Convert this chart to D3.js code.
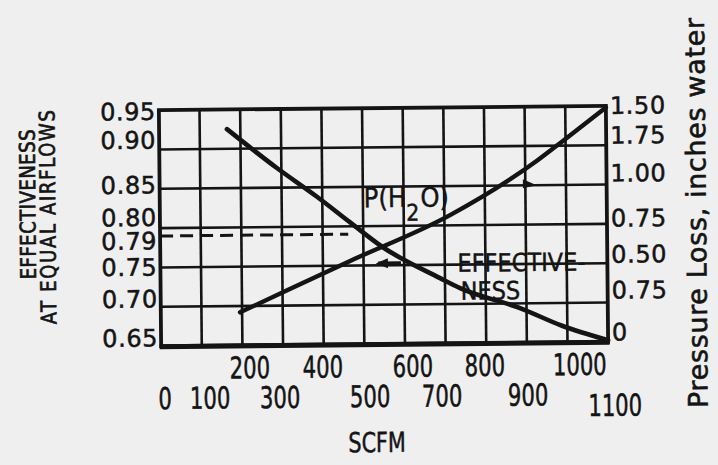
<!DOCTYPE html>
<html><head><meta charset="utf-8">
<script src="https://cdn.jsdelivr.net/npm/d3@7/dist/d3.min.js"></script>
<style>
html,body{margin:0;padding:0;background:#efefef;}
svg{display:block;}
</style></head>
<body><svg id="chart" width="718" height="465"></svg>
<script>
// ---- data ----
const effScfm   = [167, 289, 387, 468, 548, 688, 737, 884, 987, 1100];
const effValues = [0.925, 0.875, 0.838, 0.805, 0.773, 0.733, 0.720, 0.694, 0.671, 0.652];
const presScfm   = [195, 318, 467, 714, 929, 991, 1100];
const presValues = [0.21, 0.355, 0.53, 0.815, 1.155, 1.275, 1.49];
const refEffValue = 0.79;
const refScfmEnd = 463;
const xGridValues = [0, 100, 200, 300, 400, 500, 600, 700, 800, 900, 1000, 1100];
const yGridValues = [0.65, 0.70, 0.75, 0.80, 0.85, 0.90, 0.95];
const xTickTop = [200, 400, 600, 800, 1000];
const xTickBottom = [0, 100, 300, 500, 700, 900, 1100];
const leftTickValues = [0.95, 0.90, 0.85, 0.80, 0.79, 0.75, 0.70, 0.65];
const leftTickLabels = ["0.95", "0.90", "0.85", "0.80", "0.79", "0.75", "0.70", "0.65"];
const rightTickValues = [1.5, 1.25, 1.0, 0.75, 0.5, 0.25, 0];
const rightTickLabels = ["1.50", "1.75", "1.00", "0.75", "0.50", "0.75", "0"];

// ---- layout ----
const svg = d3.select('#chart');
svg.append('rect').attr('width', 718).attr('height', 465).attr('fill', '#efefef');
const x = d3.scaleLinear([0, 1100], [160, 607]);
const yL = d3.scaleLinear([0.65, 0.95], [344, 108]);
const yR = d3.scaleLinear([0, 1.5], [344, 108]);
const ink = '#141414';
const g = svg.append('g').attr('transform', 'rotate(-0.55,383,226)');

// grid
g.append('g').selectAll('line').data(xGridValues.slice(1, -1)).join('line')
  .attr('x1', d => x(d)).attr('x2', d => x(d))
  .attr('y1', yL(0.95)).attr('y2', yL(0.65))
  .attr('stroke', ink).attr('stroke-width', 2.6);
g.append('g').selectAll('line').data(yGridValues.slice(1, -1)).join('line')
  .attr('x1', x(0)).attr('x2', x(1100))
  .attr('y1', d => yL(d)).attr('y2', d => yL(d))
  .attr('stroke', ink).attr('stroke-width', 2.6);
// frame
g.append('rect').attr('x', x(0)).attr('y', yL(0.95))
  .attr('width', x(1100) - x(0)).attr('height', yL(0.65) - yL(0.95))
  .attr('fill', 'none').attr('stroke', ink).attr('stroke-width', 3.8);
g.append('line').attr('x1', x(0) - 1.5).attr('x2', x(1100) + 1.5)
  .attr('y1', yL(0.65) + 0.5).attr('y2', yL(0.65) + 0.5)
  .attr('stroke', ink).attr('stroke-width', 5);

// reference dashed line
g.append('line').attr('x1', x(0)).attr('x2', x(refScfmEnd))
  .attr('y1', yL(refEffValue)).attr('y2', yL(refEffValue))
  .attr('stroke', ink).attr('stroke-width', 3).attr('stroke-dasharray', '13 7');

// curves
const effLine = d3.line().x((d, i) => x(effScfm[i])).y(d => yL(d)).curve(d3.curveMonotoneX);
const presLine = d3.line().x((d, i) => x(presScfm[i])).y(d => yR(d)).curve(d3.curveMonotoneX);
g.append('path').attr('d', effLine(effValues)).attr('fill', 'none')
  .attr('stroke', ink).attr('stroke-width', 4.6).attr('stroke-linecap', 'round');
g.append('path').attr('d', presLine(presValues)).attr('fill', 'none')
  .attr('stroke', ink).attr('stroke-width', 4.4).attr('stroke-linecap', 'round');

// arrows
const ya = yL(0.85);
g.append('path').attr('d', `M${x(928)},${ya} L${x(894)},${ya - 6} L${x(894)},${ya + 3} Z`).attr('fill', ink);
const yb = yL(0.75) - 2;
g.append('line').attr('x1', x(536)).attr('x2', x(592)).attr('y1', yb).attr('y2', yb)
  .attr('stroke', ink).attr('stroke-width', 4);
g.append('path').attr('d', `M${x(530)},${yb} L${x(560)},${yb - 5} L${x(560)},${yb + 5} Z`).attr('fill', ink);

// tick labels
const tickFont = "'DejaVu Sans', sans-serif";
const leftNudge = [9.8, -1, 4.6, -2.2, 13.4, 8, 0.6, 0.3];
g.append('g').selectAll('text').data(leftTickValues).join('text')
  .attr('x', 157).attr('y', (d, i) => yL(d) + leftNudge[i])
  .attr('text-anchor', 'end').attr('font-family', tickFont).attr('font-size', 24)
  .attr('letter-spacing', 0.6).attr('fill', ink)
  .attr('stroke', ink).attr('stroke-width', 0.5)
  .text((d, i) => leftTickLabels[i]);
const rightNudge = [8.2, -1.5, -2.9, 2.8, -0.5, -3.9, -1.2];
g.append('g').selectAll('text').data(rightTickValues).join('text')
  .attr('x', 611).attr('y', (d, i) => yR(d) + rightNudge[i])
  .attr('font-family', tickFont).attr('font-size', 24)
  .attr('letter-spacing', 0.6).attr('fill', ink)
  .attr('stroke', ink).attr('stroke-width', 0.5)
  .text((d, i) => rightTickLabels[i]);

// x tick labels: tall, narrow lettering
const xFont = "'DejaVu Sans Condensed', 'DejaVu Sans', sans-serif";
const topNudge = {200: 7.2, 400: -1.1, 600: 7.7, 800: -1.6, 1000: 12.1};
const botNudge = {0: 3.5, 100: 7.9, 300: -3.4, 500: 5.3, 700: -4, 900: 0.7, 1100: 6.5};
g.append('g').selectAll('text').data(xTickTop).join('text')
  .attr('transform', d => `translate(${x(d) + topNudge[d]},377) scale(1,1.28)`)
  .attr('text-anchor', 'middle').attr('font-family', xFont).attr('font-size', 23.5)
  .attr('fill', ink).attr('stroke', ink).attr('stroke-width', 0.4).text(d => d);
g.append('g').selectAll('text').data(xTickBottom).join('text')
  .attr('transform', d => `translate(${x(d) + botNudge[d]},${d === 1100 ? 418 : 407}) scale(1,1.28)`)
  .attr('text-anchor', 'middle').attr('font-family', xFont).attr('font-size', 23.5)
  .attr('fill', ink).attr('stroke', ink).attr('stroke-width', 0.4).text(d => d);

// axis titles
g.append('text').attr('transform', 'translate(375,452) scale(1,1.2)')
  .attr('text-anchor', 'middle').attr('font-family', xFont)
  .attr('font-size', 23).attr('fill', ink).attr('stroke', ink).attr('stroke-width', 0.4)
  .text('SCFM');
const titleFont = "'DejaVu Sans Condensed', 'DejaVu Sans', sans-serif";
g.append('text').attr('transform', 'translate(35.5,201) rotate(-90) scale(1,1.08)')
  .attr('text-anchor', 'middle').attr('font-family', titleFont).attr('font-size', 20)
  .attr('textLength', 150).attr('lengthAdjust', 'spacing').attr('fill', ink)
  .attr('stroke', ink).attr('stroke-width', 0.6)
  .text('EFFECTIVENESS');
g.append('text').attr('transform', 'translate(55.5,214) rotate(-90) scale(1,1.08)')
  .attr('text-anchor', 'middle').attr('font-family', titleFont).attr('font-size', 20)
  .attr('textLength', 214).attr('lengthAdjust', 'spacing').attr('fill', ink)
  .attr('stroke', ink).attr('stroke-width', 0.6)
  .text('AT EQUAL AIRFLOWS');
g.append('text').attr('transform', 'translate(706,216) rotate(-90)')
  .attr('text-anchor', 'middle').attr('font-family', "'DejaVu Sans', sans-serif").attr('font-size', 27)
  .attr('textLength', 390).attr('lengthAdjust', 'spacing').attr('fill', ink)
  .attr('stroke', ink).attr('stroke-width', 0.6)
  .text('Pressure Loss, inches water');

// annotations
const annFont = "'DejaVu Sans Condensed', 'DejaVu Sans', sans-serif";
const pLabel = g.append('text').attr('x', 364).attr('y', 207)
  .attr('font-family', annFont).attr('font-size', 27).attr('fill', ink)
  .attr('stroke', ink).attr('stroke-width', 0.4);
pLabel.append('tspan').text('P(H');
pLabel.append('tspan').attr('dy', 14).attr('font-size', 23).text('2');
pLabel.append('tspan').attr('dy', -14).attr('dx', 1).text('O)');
g.append('text').attr('x', 457).attr('y', 272.5)
  .attr('font-family', annFont).attr('font-size', 25).attr('fill', ink)
  .attr('stroke', ink).attr('stroke-width', 0.4).text('EFFECTIVE-');
g.append('text').attr('x', 460).attr('y', 300.5)
  .attr('font-family', annFont).attr('font-size', 25).attr('fill', ink)
  .attr('stroke', ink).attr('stroke-width', 0.4).text('NESS');
</script>
</body></html>
